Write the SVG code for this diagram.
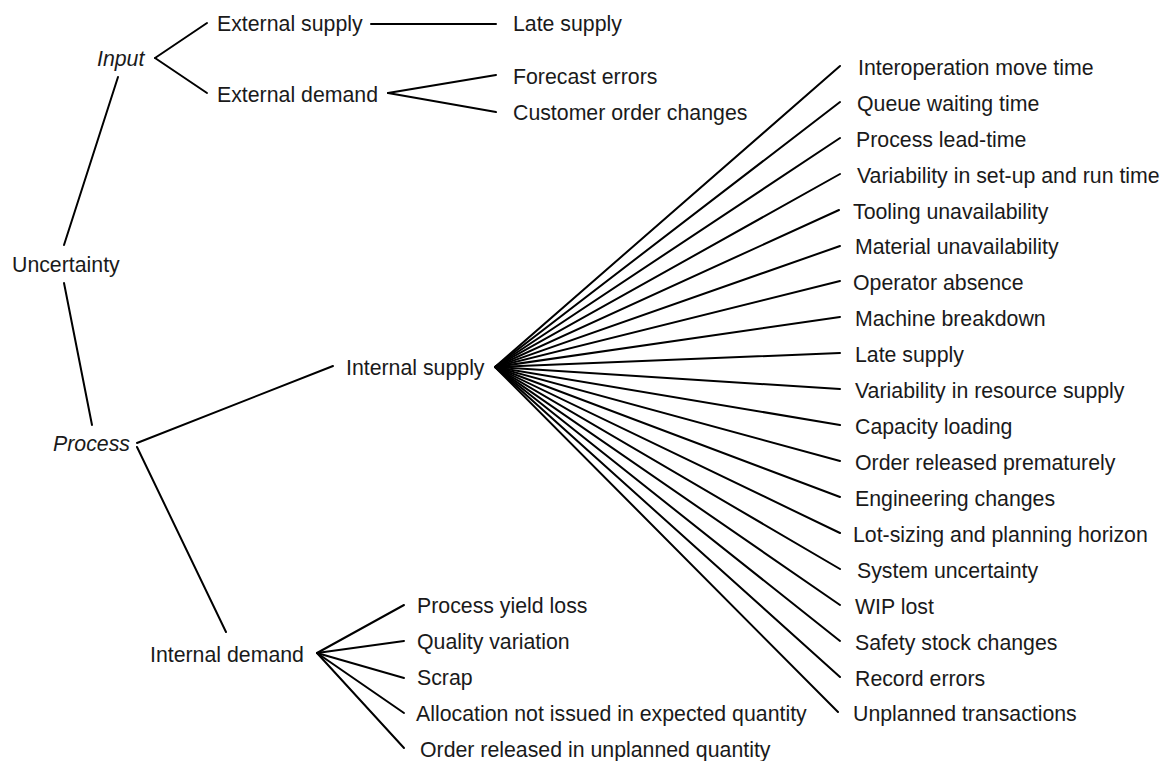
<svg xmlns="http://www.w3.org/2000/svg" width="1167" height="761" viewBox="0 0 1167 761">
  <style>
    .lbl { font-family: "Liberation Sans", Arial, sans-serif; font-size: 21.3px; fill: #1a1a1a; }
    .it { font-style: italic; }
    .edge { stroke: #000; stroke-width: 2; fill: none; stroke-linecap: round; }
  </style>
  <rect width="1167" height="761" fill="#fff"/>

  <g id="connectors">
    <!-- root branches -->
    <line class="edge" x1="118" y1="77" x2="64" y2="245"/>
    <line class="edge" x1="64" y1="283" x2="92" y2="425"/>
    <!-- input branches -->
    <line class="edge" x1="155" y1="58" x2="207" y2="23"/>
    <line class="edge" x1="155" y1="58" x2="207" y2="93"/>
    <line class="edge" x1="371" y1="24" x2="496" y2="24"/>
    <line class="edge" x1="388" y1="93" x2="496" y2="75"/>
    <line class="edge" x1="388" y1="93" x2="496" y2="112"/>
    <!-- process branches -->
    <line class="edge" x1="137" y1="443" x2="333" y2="366"/>
    <line class="edge" x1="137" y1="447" x2="226" y2="632"/>
    <!-- internal supply fan -->
    <g id="fan-supply">
      <line class="edge" x1="495" y1="367" x2="840" y2="66"/>
      <line class="edge" x1="495" y1="367" x2="840" y2="102"/>
      <line class="edge" x1="495" y1="367" x2="840" y2="138"/>
      <line class="edge" x1="495" y1="367" x2="840" y2="174"/>
      <line class="edge" x1="495" y1="367" x2="839" y2="210"/>
      <line class="edge" x1="495" y1="367" x2="840" y2="246"/>
      <line class="edge" x1="495" y1="367" x2="840" y2="281"/>
      <line class="edge" x1="495" y1="367" x2="840" y2="317"/>
      <line class="edge" x1="495" y1="367" x2="840" y2="353"/>
      <line class="edge" x1="495" y1="367" x2="840" y2="389"/>
      <line class="edge" x1="495" y1="367" x2="840" y2="425"/>
      <line class="edge" x1="495" y1="367" x2="840" y2="461"/>
      <line class="edge" x1="495" y1="367" x2="840" y2="497"/>
      <line class="edge" x1="495" y1="367" x2="840" y2="533"/>
      <line class="edge" x1="495" y1="367" x2="840" y2="569"/>
      <line class="edge" x1="495" y1="367" x2="840" y2="605"/>
      <line class="edge" x1="495" y1="367" x2="840" y2="641"/>
      <line class="edge" x1="495" y1="367" x2="840" y2="677"/>
      <line class="edge" x1="495" y1="367" x2="838" y2="712"/>
    </g>
    <!-- internal demand fan -->
    <g id="fan-demand">
      <line class="edge" x1="317" y1="653" x2="404" y2="605"/>
      <line class="edge" x1="317" y1="653" x2="404" y2="641"/>
      <line class="edge" x1="317" y1="653" x2="404" y2="678"/>
      <line class="edge" x1="317" y1="653" x2="404" y2="713"/>
      <line class="edge" x1="317" y1="653" x2="404" y2="748"/>
    </g>
  </g>

  <g id="n-uncertainty"><text class="lbl" x="12" y="272">Uncertainty</text></g>
  <g id="n-input"><text class="lbl it" x="97" y="66">Input</text></g>
  <g id="n-process"><text class="lbl it" x="53" y="451">Process</text></g>

  <g id="n-external-supply"><text class="lbl" x="217" y="31">External supply</text></g>
  <g id="n-external-demand"><text class="lbl" x="217" y="102">External demand</text></g>
  <g id="n-late-supply-ext"><text class="lbl" x="513" y="31">Late supply</text></g>
  <g id="n-forecast-errors"><text class="lbl" x="513" y="84">Forecast errors</text></g>
  <g id="n-customer-order"><text class="lbl" x="513" y="120">Customer order changes</text></g>

  <g id="n-internal-supply"><text class="lbl" x="346" y="375">Internal supply</text></g>
  <g id="n-internal-demand"><text class="lbl" x="150" y="662">Internal demand</text></g>

  <g id="supply-causes">
    <g id="s1"><text class="lbl" x="858" y="75">Interoperation move time</text></g>
    <g id="s2"><text class="lbl" x="857" y="111">Queue waiting time</text></g>
    <g id="s3"><text class="lbl" x="856" y="147">Process lead-time</text></g>
    <g id="s4"><text class="lbl" x="857" y="183">Variability in set-up and run time</text></g>
    <g id="s5"><text class="lbl" x="853" y="219">Tooling unavailability</text></g>
    <g id="s6"><text class="lbl" x="855" y="254">Material unavailability</text></g>
    <g id="s7"><text class="lbl" x="853" y="290">Operator absence</text></g>
    <g id="s8"><text class="lbl" x="855" y="326">Machine breakdown</text></g>
    <g id="s9"><text class="lbl" x="855" y="362">Late supply</text></g>
    <g id="s10"><text class="lbl" x="855" y="398">Variability in resource supply</text></g>
    <g id="s11"><text class="lbl" x="855" y="434">Capacity loading</text></g>
    <g id="s12"><text class="lbl" x="855" y="470">Order released prematurely</text></g>
    <g id="s13"><text class="lbl" x="855" y="506">Engineering changes</text></g>
    <g id="s14"><text class="lbl" x="853" y="542">Lot-sizing and planning horizon</text></g>
    <g id="s15"><text class="lbl" x="857" y="578">System uncertainty</text></g>
    <g id="s16"><text class="lbl" x="855" y="614">WIP lost</text></g>
    <g id="s17"><text class="lbl" x="855" y="650">Safety stock changes</text></g>
    <g id="s18"><text class="lbl" x="855" y="686">Record errors</text></g>
    <g id="s19"><text class="lbl" x="853" y="721">Unplanned transactions</text></g>
  </g>

  <g id="demand-causes">
    <g id="d1"><text class="lbl" x="417" y="613">Process yield loss</text></g>
    <g id="d2"><text class="lbl" x="417" y="649">Quality variation</text></g>
    <g id="d3"><text class="lbl" x="417" y="685">Scrap</text></g>
    <g id="d4"><text class="lbl" x="416" y="721">Allocation not issued in expected quantity</text></g>
    <g id="d5"><text class="lbl" x="420" y="757">Order released in unplanned quantity</text></g>
  </g>
</svg>
